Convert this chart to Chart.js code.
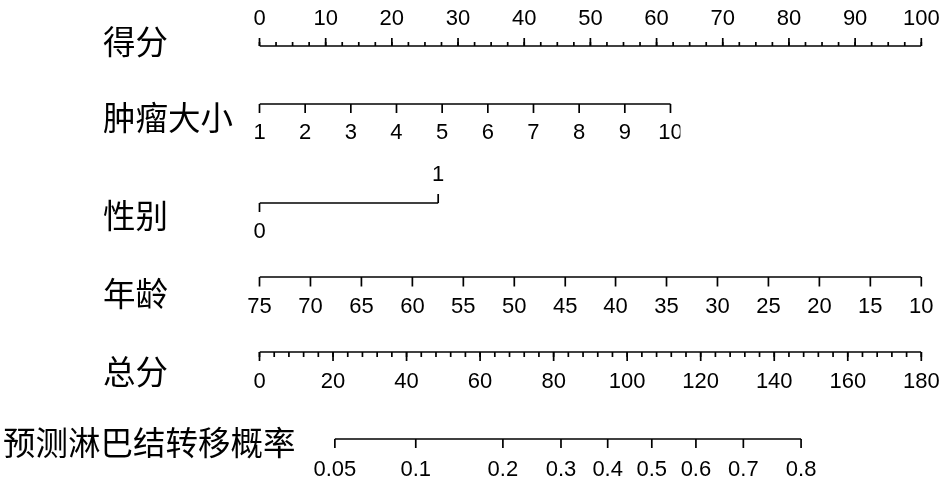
<!DOCTYPE html>
<html><head><meta charset="utf-8">
<script src="https://cdn.jsdelivr.net/npm/chart.js@4.4.1/dist/chart.umd.min.js"></script>
<style>html,body{margin:0;padding:0;background:#fff}#wrap{width:945px;height:484px;position:relative}</style>
</head><body><div id="wrap"><canvas id="c" width="945" height="484"></canvas></div>
<script>
// ---- data ----
const rowLabels = ['得分','肿瘤大小','性别','年龄','总分','预测淋巴结转移概率'];
const pointsTicks = [0,10,20,30,40,50,60,70,80,90,100];
const pointsMinorStep = 2.5;
const tumorValues = ['1','2','3','4','5','6','7','8','9','10'];
const tumorPoints = [0,6.9,13.8,20.7,27.6,34.5,41.4,48.3,55.2,62.1];
const sexValues = ['0','1'];
const sexPoints = [0,27];
const ageValues = ['75','70','65','60','55','50','45','40','35','30','25','20','15','10'];
const agePoints = [0,7.7,15.4,23.1,30.8,38.5,46.2,53.8,61.5,69.2,76.9,84.6,92.3,100];
const totalTicks = [0,20,40,60,80,100,120,140,160,180];
const totalMinorStep = 4;
const probValues = ['0.05','0.1','0.2','0.3','0.4','0.5','0.6','0.7','0.8'];
const probTotal = [20.5,42.5,66.2,82.0,94.7,106.7,118.7,131.6,147.3];

// ---- layout / style ----
const LAYOUT = {
  lineY:  [46, 104, 203, 277, 352, 439],
  labelY: [42, 118, 216, 294, 372, 443],
  labelX: [103,103,103,103,103,3],
  tumorLabelClip: 63.6   // tumour labels are cut off just right of the last tick (points units)
};
const INK = '#000';
const LW = 1.7;
const NUM_FONT = '22px "Liberation Sans", Arial, sans-serif';
const CJK_FONT = '32.5px "Noto Sans CJK SC", sans-serif';

function seg(x0, x1, y, axis) {
  return { data: [{x:x0,y:y},{x:x1,y:y}], xAxisID: axis, showLine: true,
    borderColor: INK, borderWidth: LW, pointRadius: 0, fill: false };
}
const datasets = [
  seg(pointsTicks[0], pointsTicks[pointsTicks.length-1], LAYOUT.lineY[0], 'x'),
  seg(tumorPoints[0], tumorPoints[tumorPoints.length-1], LAYOUT.lineY[1], 'x'),
  seg(sexPoints[0], sexPoints[1], LAYOUT.lineY[2], 'x'),
  seg(agePoints[0], agePoints[agePoints.length-1], LAYOUT.lineY[3], 'x'),
  seg(totalTicks[0], totalTicks[totalTicks.length-1], LAYOUT.lineY[4], 'xt'),
  seg(probTotal[0], probTotal[probTotal.length-1], LAYOUT.lineY[5], 'xt')
];

const nomoPlugin = {
  id: 'nomo',
  afterDatasetsDraw(chart) {
    const ctx = chart.ctx, sx = chart.scales.x, st = chart.scales.xt, sy = chart.scales.y;
    const Y = LAYOUT.lineY.map(v => sy.getPixelForValue(v));
    ctx.save();
    ctx.strokeStyle = INK; ctx.fillStyle = INK; ctx.lineWidth = LW; ctx.lineCap = 'butt';
    const tick = (x, y, len) => { ctx.beginPath(); ctx.moveTo(x, y); ctx.lineTo(x, y + len); ctx.stroke(); };
    const txt = (s, x, y) => { ctx.fillText(s, x, y); };
    ctx.font = NUM_FONT; ctx.textAlign = 'center'; ctx.textBaseline = 'middle';
    // points row: ticks up, labels above
    const pMin = pointsTicks[0], pMax = pointsTicks[pointsTicks.length-1];
    for (let v = pMin; v <= pMax + 1e-9; v += pointsMinorStep) tick(sx.getPixelForValue(v), Y[0], -4);
    pointsTicks.forEach(v => { const x = sx.getPixelForValue(v); tick(x, Y[0], -8); txt(String(v), x, Y[0] - 27); });
    // tumor size
    tumorPoints.forEach(p => tick(sx.getPixelForValue(p), Y[1], 9));
    ctx.save();
    ctx.beginPath();
    ctx.rect(0, Y[1], sx.getPixelForValue(LAYOUT.tumorLabelClip), 60);
    ctx.clip();
    tumorPoints.forEach((p, i) => txt(tumorValues[i], sx.getPixelForValue(p), Y[1] + 29));
    ctx.restore();
    // sex
    { const x0 = sx.getPixelForValue(sexPoints[0]), x1 = sx.getPixelForValue(sexPoints[1]);
      tick(x0, Y[2], 9); txt(sexValues[0], x0, Y[2] + 29);
      tick(x1, Y[2], -9); txt(sexValues[1], x1, Y[2] - 28); }
    // age
    agePoints.forEach((p, i) => { const x = sx.getPixelForValue(p); tick(x, Y[3], 9.5); txt(ageValues[i], x, Y[3] + 29.5); });
    // total points
    const tMin = totalTicks[0], tMax = totalTicks[totalTicks.length-1];
    for (let v = tMin; v <= tMax + 1e-9; v += totalMinorStep) tick(st.getPixelForValue(v), Y[4], 5);
    totalTicks.forEach(v => { const x = st.getPixelForValue(v); tick(x, Y[4], 9); txt(String(v), x, Y[4] + 30); });
    // probability
    probTotal.forEach((p, i) => { const x = st.getPixelForValue(p); tick(x, Y[5], 9); txt(probValues[i], x, Y[5] + 31); });
    // row labels
    ctx.font = CJK_FONT; ctx.textAlign = 'left'; ctx.textBaseline = 'middle';
    rowLabels.forEach((s, i) => txt(s, LAYOUT.labelX[i], sy.getPixelForValue(LAYOUT.labelY[i])));
    ctx.restore();
  }
};

new Chart(document.getElementById('c'), {
  type: 'scatter',
  data: { datasets },
  options: {
    responsive: false, animation: false,
    layout: { padding: { left: 259.5, right: 23.7, top: 0, bottom: 0 } },
    plugins: { legend: { display: false }, tooltip: { enabled: false } },
    scales: {
      x:  { type: 'linear', display: false, min: pointsTicks[0], max: pointsTicks[pointsTicks.length-1] },
      xt: { type: 'linear', display: false, axis: 'x', min: totalTicks[0], max: totalTicks[totalTicks.length-1] },
      y:  { type: 'linear', display: false, min: 0, max: 484, reverse: true }
    }
  },
  plugins: [nomoPlugin]
});
</script></body></html>
